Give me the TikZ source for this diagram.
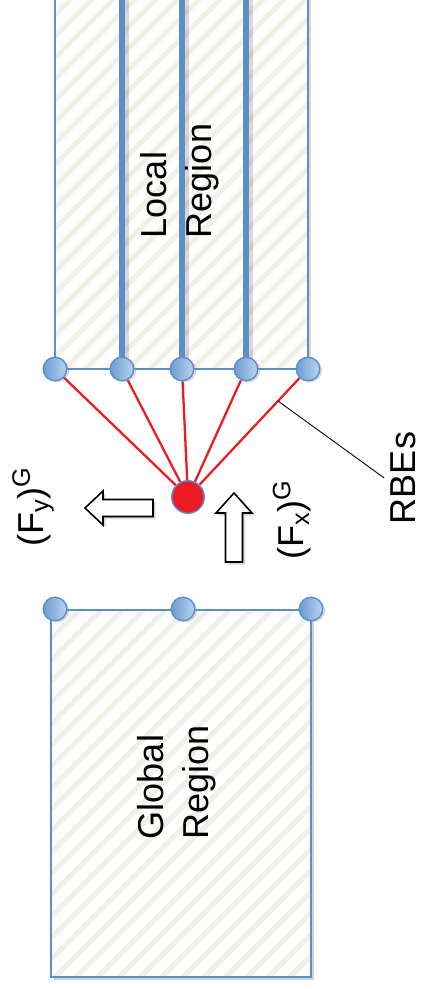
\documentclass[tikz,border=0pt]{standalone}
\usepackage{fontspec}
\setmainfont{Liberation Sans}
\usetikzlibrary{arrows.meta,calc,patterns.meta,shadows,backgrounds}

\definecolor{edgeblue}{HTML}{5B8FC9}
\definecolor{dotblue}{HTML}{6C9BD2}
\definecolor{dotlight}{HTML}{BCD4EE}
\definecolor{hatch}{RGB}{241,239,230}
\definecolor{rbered}{HTML}{ED1C24}

\begin{document}
\begin{tikzpicture}[x=0.02cm,y=-0.02cm,>=Stealth,
  dot/.style={circle,draw=edgeblue,line width=0.8pt,left color=dotblue,right color=dotlight,
    minimum size=0.47cm,inner sep=0pt,drop shadow={opacity=0.3,shadow xshift=0.05cm,shadow yshift=-0.03cm}},
  master/.style={circle,draw=edgeblue,line width=0.8pt,fill=rbered,minimum size=0.65cm,inner sep=0pt},
  hatched/.style={pattern={Lines[angle=45,distance=8.6pt,line width=2.9pt]},pattern color=hatch},
  edge/.style={draw=edgeblue,line width=0.85pt},
  rib/.style={draw=edgeblue,line width=3.4pt},
  rbeline/.style={draw=rbered,line width=1.3pt},
  force/.style={draw=black,line width=0.9pt,fill=white,drop shadow={opacity=0.3,shadow xshift=0.05cm,shadow yshift=-0.05cm}},
  lbl/.style={font=\fontsize{20.5}{25.5}\selectfont,rotate=90,align=left}]
  \useasboundingbox (0,0) rectangle (422,989);
  % Local region nodes
  \foreach \x [count=\i] in {55,122,182,246,308}
    \node[dot] (l\i) at (\x,369) {};
  % Master node of the RBEs
  \node[master] (rbe) at (188,497) {};
  % Global region nodes
  \foreach \x [count=\i] in {55,183,311}
    \node[dot] (g\i) at (\x,609) {};
  % Labels
  \node[lbl] (local) at (180,181) {Local\\Region};
  \node[lbl] (global) at (177,782) {Global\\Region};
  \node[lbl] (fylbl) at (33,507) {(F\textsubscript{y})\textsuperscript{G}};
  \node[lbl] (fxlbl) at (292,520) {(F\textsubscript{x})\textsuperscript{G}};
  \node[lbl] (rbes) at (403,478) {RBEs};
  \coordinate (top) at (0,-10);
  \draw[line width=0.5pt] ($(l5)!0.25!(rbe)$) -- (rbes.north);
  % Forces
  \draw[force] (153,499.5) -- (103,499.5) -- (103,491) -- (85,508) -- (103,525)
    -- (103,516.5) -- (153,516.5) -- cycle;
  \draw[force] (225.5,562) -- (225.5,513) -- (216,513) -- (234,493) -- (252,513)
    -- (242.5,513) -- (242.5,562) -- cycle;
  \begin{pgfonlayer}{background}
    % Local region
    \fill[white,drop shadow={opacity=0.3,shadow xshift=0.06cm,shadow yshift=0cm}] (55,-10) rectangle (308,369);
    \fill[hatched] (55,-10) rectangle (308,369);
    \foreach \i in {2,3,4}
      \draw[black,opacity=0.15,line width=2.5pt] ($(l\i)+(5,-8)$) -- ($(l\i |- top)+(5,0)$);
    \draw[edge] (l1) -- (l1 |- top);
    \draw[edge] (l5) -- (l5 |- top);
    \foreach \i in {2,3,4}
      \draw[rib] (l\i) -- (l\i |- top);
    \draw[edge] (l1) -- (l5);
    \foreach \i in {1,...,5}
      \draw[rbeline] (l\i) -- (rbe);
    % Global region
    \fill[white,drop shadow={opacity=0.35,shadow xshift=0.06cm,shadow yshift=-0.06cm}] (51,610) rectangle (311,977);
    \fill[hatched] (51,610) rectangle (311,977);
    \draw[edge] (51,610) rectangle (311,977);
  \end{pgfonlayer}
\end{tikzpicture}
\end{document}
